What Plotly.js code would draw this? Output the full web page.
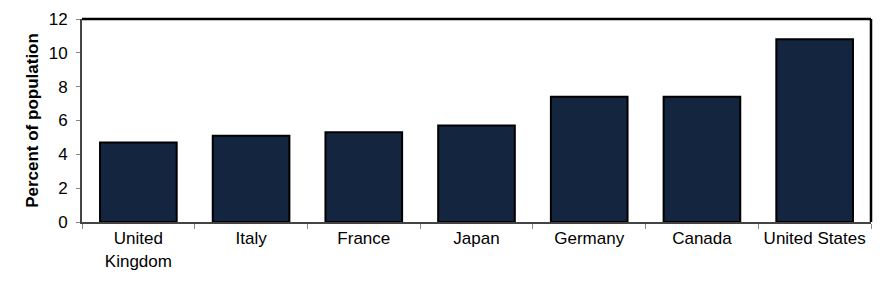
<!DOCTYPE html>
<html><head><meta charset="utf-8">
<script src="https://cdn.plot.ly/plotly-3.0.1.min.js"></script>
<style>body{margin:0;}#c{width:890px;height:285px;}</style>
</head><body><div id="c"></div>
<script>
const categories = ["United<br>Kingdom", "Italy", "France", "Japan", "Germany", "Canada", "United States"];
const values = [4.7, 5.1, 5.3, 5.7, 7.4, 7.4, 10.8];
const yTicks = [0, 2, 4, 6, 8, 10, 12];

const trace = {
  type: 'bar', x: categories, y: values,
  marker: {color: '#13253f', line: {color: '#000000', width: 2}},
  width: 0.68, hoverinfo: 'none'
};
const layout = {
  width: 890, height: 285,
  margin: {l: 82, r: 19, t: 19, b: 63},
  paper_bgcolor: '#ffffff', plot_bgcolor: '#ffffff',
  font: {family: 'Liberation Sans, Arial, sans-serif', size: 17, color: '#000'},
  showlegend: false,
  xaxis: {
    type: 'category', showgrid: false, zeroline: false,
    showline: true, linecolor: '#444', linewidth: 2,
    ticks: 'outside', tickson: 'boundaries', ticklen: 5, tickcolor: '#888', tickwidth: 1,
    tickfont: {size: 17}, fixedrange: true
  },
  yaxis: {
    range: [0, 12], tickvals: yTicks, showgrid: false, zeroline: false,
    showline: true, linecolor: '#444', linewidth: 2,
    ticks: 'outside', ticklen: 4, tickcolor: '#888', tickwidth: 1,
    ticklabelstandoff: 5,
    tickfont: {size: 17},
    title: {text: '<b>Percent of population</b>', font: {size: 17}, standoff: 6}
  },
  shapes: [
    {type: 'line', xref: 'paper', yref: 'paper', x0: 0, x1: 1, y0: 1, y1: 1, line: {color: '#000', width: 2.5}},
    {type: 'line', xref: 'paper', yref: 'paper', x0: 1, x1: 1, y0: 0, y1: 1, line: {color: '#000', width: 2.5}}
  ]
};
Plotly.newPlot('c', [trace], layout, {staticPlot: true});
</script></body></html>
